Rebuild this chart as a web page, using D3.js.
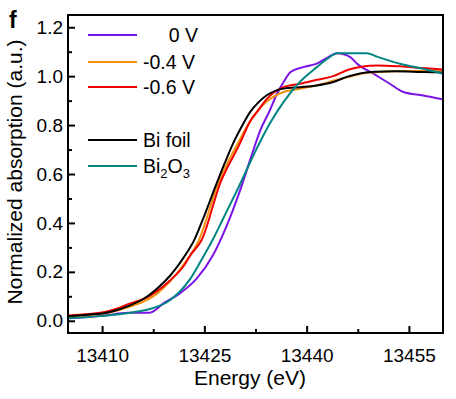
<!DOCTYPE html>
<html><head><meta charset="utf-8">
<script src="https://cdn.jsdelivr.net/npm/d3@7"></script>
<style>
html,body{margin:0;padding:0;background:#fff;}
svg text{font-family:"Liberation Sans",Arial,sans-serif;fill:#000;}
</style></head>
<body><svg id="chart" width="456" height="399"></svg>
<script>
// ---- data ----
const seriesNames = ["0 V", "-0.4 V", "-0.6 V", "Bi foil", "Bi2O3"];
const seriesColors = ["#7B12E6", "#F2900F", "#F20000", "#000000", "#008585"];

const v0E = [13405,13408,13410,13412,13414,13417,13419,13421.4,13423.8,13426.3,13428.3,13430.2,13431.8,13433.2,13434.6,13435.6,13436.6,13437.6,13439.5,13441.5,13443,13444.5,13446.4,13447.4,13449.8,13452.2,13454.2,13457.1,13460];
const v0Y = [0.010,0.015,0.020,0.028,0.033,0.033,0.071,0.112,0.170,0.270,0.390,0.530,0.665,0.778,0.860,0.925,0.975,1.016,1.037,1.051,1.075,1.094,1.078,1.051,1.010,0.969,0.935,0.921,0.905];

const v04E = [13405,13408,13410,13412,13414,13416,13418,13420,13422,13424.2,13427,13430,13431.7,13433,13434.1,13436.6,13439,13442.4,13444,13446,13448,13450,13453,13457,13460];
const v04Y = [0.015,0.022,0.028,0.040,0.057,0.077,0.110,0.162,0.232,0.330,0.560,0.730,0.815,0.865,0.895,0.935,0.948,0.969,0.982,0.995,1.010,1.016,1.020,1.022,1.025];

const v06E = [13405,13408,13410,13412,13414,13416,13418,13420,13422,13423,13424.6,13427.3,13430.2,13431.7,13432.9,13434.1,13436.6,13439,13441.5,13443.9,13446,13448,13450.3,13453.7,13457,13460];
const v06Y = [0.022,0.028,0.034,0.048,0.070,0.088,0.120,0.166,0.225,0.270,0.330,0.561,0.724,0.815,0.860,0.905,0.955,0.969,0.985,1.000,1.025,1.038,1.044,1.040,1.033,1.027];

const foilE = [13405,13408,13410,13412,13414,13416,13418,13420,13421,13422,13423.6,13425,13426.6,13428,13429.2,13430.5,13431.7,13433,13434.1,13436.6,13439,13441.5,13443.9,13446,13448,13450,13453,13457,13460];
const foilY = [0.018,0.025,0.030,0.042,0.062,0.088,0.130,0.185,0.220,0.260,0.335,0.430,0.547,0.645,0.724,0.795,0.853,0.895,0.921,0.949,0.955,0.962,0.976,0.998,1.012,1.018,1.020,1.017,1.015];

const oxE = [13405,13410,13414.1,13417,13420,13422.9,13424.5,13426.2,13427.8,13430,13432.7,13434.6,13436.6,13439,13441.5,13443,13444.5,13448.8,13450.3,13453.7,13457.1,13460];
const oxY = [0.010,0.020,0.033,0.048,0.085,0.170,0.245,0.330,0.420,0.545,0.705,0.806,0.894,0.976,1.037,1.070,1.094,1.094,1.080,1.051,1.030,1.010];

const xTicks = [13410, 13425, 13440, 13455];
const xMinorTicks = [13417.5, 13432.5, 13447.5];
const yTicks = [0.0, 0.2, 0.4, 0.6, 0.8, 1.0, 1.2];
const yMinorTicks = [0.1, 0.3, 0.5, 0.7, 0.9, 1.1];

const seriesE = [v0E, v04E, v06E, foilE, oxE];
const seriesY = [v0Y, v04Y, v06Y, foilY, oxY];

// ---- layout ----
const svg = d3.select("#chart");
const L = 68, R = 443, T = 15, B = 333;
const x = d3.scaleLinear().domain([13405, 13460]).range([L, R]);
const y = d3.scaleLinear().domain([-0.05, 1.25]).range([B, T]);

svg.append("defs").append("clipPath").attr("id","clip")
  .append("rect").attr("x",L).attr("y",T).attr("width",R-L).attr("height",B-T);

// curves
const line = d3.line().x(d=>x(d[0])).y(d=>y(d[1])).curve(d3.curveMonotoneX);
const g = svg.append("g").attr("clip-path","url(#clip)");
seriesNames.forEach((n,i)=>{
  const pts = seriesE[i].map((e,j)=>[e, seriesY[i][j]]);
  g.append("path").datum(pts).attr("d",line)
    .attr("fill","none").attr("stroke",seriesColors[i]).attr("stroke-width",2)
    .attr("stroke-linejoin","round");
});

// axes (ticks inward)
const fmtY = d3.format(".1f");
const xAxis = svg.append("g").attr("transform",`translate(0,${B})`)
  .call(d3.axisBottom(x).tickValues(xTicks).tickSize(-7).tickPadding(16).tickFormat(d3.format("d")));
const xMinor = svg.append("g").attr("transform",`translate(0,${B})`)
  .call(d3.axisBottom(x).tickValues(xMinorTicks).tickSize(-4).tickFormat(""));
const yAxis = svg.append("g").attr("transform",`translate(${L},0)`)
  .call(d3.axisLeft(y).tickValues(yTicks).tickSize(-7).tickPadding(5).tickFormat(fmtY));
const yMinor = svg.append("g").attr("transform",`translate(${L},0)`)
  .call(d3.axisLeft(y).tickValues(yMinorTicks).tickSize(-4).tickFormat(""));
[xAxis,xMinor,yAxis,yMinor].forEach(a=>{
  a.select(".domain").remove();
  a.selectAll(".tick line").attr("stroke","#000").attr("stroke-width",2);
  a.selectAll(".tick text").attr("font-size",19).attr("font-family","Liberation Sans, Arial, sans-serif");
});
yAxis.selectAll(".tick text").attr("x",-5);

// frame
svg.append("rect").attr("x",L).attr("y",T).attr("width",R-L).attr("height",B-T)
  .attr("fill","none").attr("stroke","#000").attr("stroke-width",2);

// titles
svg.append("text").attr("x",250).attr("y",385).attr("text-anchor","middle")
  .attr("font-size",21).text("Energy (eV)");
svg.append("text").attr("transform","translate(22,172) rotate(-90)").attr("text-anchor","middle")
  .attr("font-size",21).text("Normalized absorption (a.u.)");
svg.append("text").attr("x",9).attr("y",28).attr("font-size",23).attr("font-weight","bold").text("f");

// legend
const legRows = [35, 62, 87, 140, 166];
const leg = svg.append("g");
seriesNames.forEach((n,i)=>{
  leg.append("line").attr("x1",88).attr("x2",137).attr("y1",legRows[i]).attr("y2",legRows[i])
    .attr("stroke",seriesColors[i]).attr("stroke-width",2);
  const t = leg.append("text").attr("y",legRows[i]).attr("dy","0.36em").attr("font-size",19.5);
  if (i===0) { t.attr("x",198).attr("text-anchor","end").text(n); }
  else if (n==="Bi2O3") {
    t.attr("x",143);
    t.append("tspan").text("Bi");
    t.append("tspan").attr("font-size",13).attr("dy",5).text("2");
    t.append("tspan").attr("dy",-5).text("O");
    t.append("tspan").attr("font-size",13).attr("dy",5).text("3");
  } else { t.attr("x",143).text(n); }
});
</script></body></html>
